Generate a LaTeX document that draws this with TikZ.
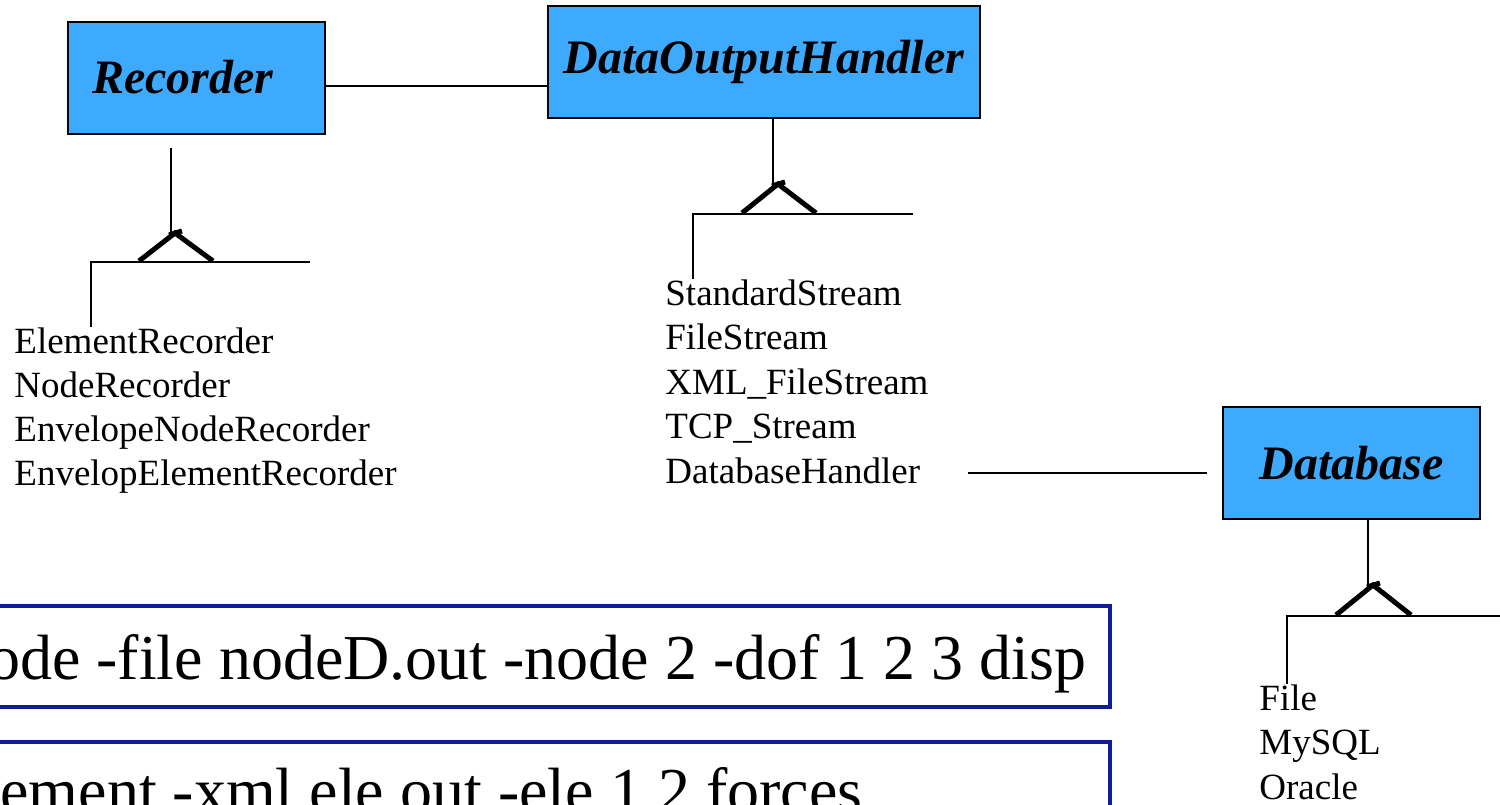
\documentclass[tikz,border=0pt]{standalone}
\usepackage{fontspec}
\setmainfont{Liberation Serif}

\definecolor{classblue}{RGB}{62,170,254}
\definecolor{cmdblue}{RGB}{16,30,150}

\tikzset{
	classbox/.style={draw=black, line width=1pt, fill=classblue, inner sep=0pt,
		minimum height=56pt, font=\fontsize{24}{28}\selectfont\bfseries\itshape},
	listtext/.style={inner sep=0pt, anchor=base west, font=\fontsize{18.5}{22}\selectfont},
	assoc/.style={line width=0.75pt},
	genline/.style={line width=2.5pt},
	cmdframe/.style={draw=cmdblue, line width=1.6pt},
	cmdtext/.style={inner sep=0pt, font=\fontsize{32}{38}\selectfont},
}

\begin{document}
\begin{tikzpicture}[x=0.5pt,y=-0.5pt]
	\useasboundingbox (0,0) rectangle (1500,804);
	\clip (0,0) rectangle (1500,804);

	% Classes
	\node[classbox, minimum width=128.5pt, text width=104.5pt, inner xsep=12pt, align=left] (rec) at (196.5,77.5) {Recorder};
	\node[classbox, minimum width=216pt] (doh) at (764,62) {DataOutputHandler};
	\node[classbox, minimum width=128.5pt] (db) at (1351.5,463) {Database};

	\draw[assoc] ([yshift=-4.25pt]rec.east) -- ([yshift=-4.25pt]rec.east -| doh.west); % Association

	% Subclasses
	\foreach \name [count=\i from 0] in {ElementRecorder, NodeRecorder, EnvelopeNodeRecorder, EnvelopElementRecorder}
		\node[listtext] (recsub\i) at (14,{353+44.3*\i}) {\name};
	\foreach \name [count=\i from 0] in {StandardStream, FileStream, XML\_FileStream, TCP\_Stream, DatabaseHandler}
		\node[listtext] (dohsub\i) at (665,{305+44.5*\i}) {\name};
	\foreach \name [count=\i from 0] in {File, MySQL, Oracle}
		\node[listtext] (dbsub\i) at (1259,{710+44.5*\i}) {\name};

	% Recorder hierarchy
	\coordinate (recTop) at (171,148);
	\coordinate (recTip) at (175,233);
	\coordinate (recBarL) at (91,262);
	\coordinate (recBarR) at (310,262);
	\draw[assoc] (recTop) -- (recTop |- recTip);
	\draw[genline] (139,261) -- (recTip) -- (213,261);
	\draw[genline] ([shift={(-6,2)}]recTip) -- ([shift={(7,-2)}]recTip);
	\draw[assoc] (recBarR) -- (recBarL) -- (recBarL |- recsub0.north);

	% DataOutputHandler hierarchy
	\coordinate (dohTip) at (778,184);
	\coordinate (dohBarL) at (693,214);
	\coordinate (dohBarR) at (913,214);
	\draw[assoc] ([xshift=4.5pt]doh.south) -- ([xshift=4.5pt]doh.south |- dohTip);
	\draw[genline] (742,213) -- (dohTip) -- (816,213);
	\draw[genline] ([shift={(-6,2)}]dohTip) -- ([shift={(7,-2)}]dohTip);
	\draw[assoc] (dohBarR) -- (dohBarL) -- (dohBarL |- dohsub0.north);

	% Database link
	\coordinate (dbLink) at (968,473);
	\draw[assoc] (dbLink) -- ([xshift=-7.5pt]dbLink -| db.west);

	% Database hierarchy
	\coordinate (dbTip) at (1373,585);
	\coordinate (dbBarL) at (1287,616);
	\coordinate (dbBarR) at (1500,616);
	\draw[assoc] ([xshift=8.25pt]db.south) -- ([xshift=8.25pt]db.south |- dbTip);
	\draw[genline] (1336,615) -- (dbTip) -- (1411,615);
	\draw[genline] ([shift={(-6,2)}]dbTip) -- ([shift={(7,-2)}]dbTip);
	\draw[assoc] (dbBarR) -- (dbBarL) -- (dbBarL |- dbsub0.north);

	% Commands
	\draw[cmdframe] (-20,606) rectangle (1110,707);
	\node[cmdtext, anchor=base east] (cmdNode) at (1087,679) {ode -file nodeD.out -node 2 -dof 1 2 3 disp};
	\draw[cmdframe] (-20,742) rectangle (1110,840);
	\node[cmdtext, anchor=base west] (cmdEle) at (0,812) {ement -xml ele.out -ele 1 2 forces};
\end{tikzpicture}
\end{document}
